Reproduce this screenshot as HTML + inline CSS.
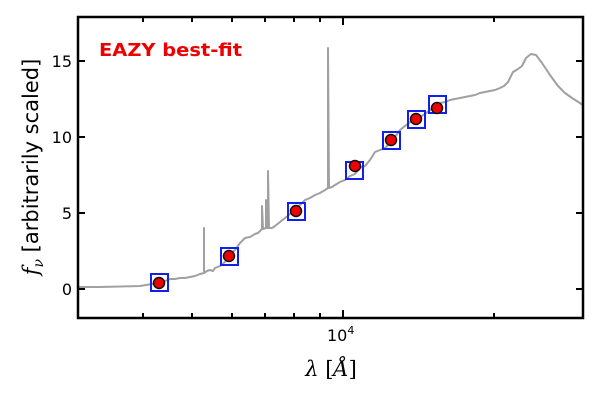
<!DOCTYPE html>
<html><head><meta charset="utf-8"><style>body{margin:0;background:#fff}</style></head><body>
<svg width="600" height="400" xmlns="http://www.w3.org/2000/svg" font-family="DejaVu Sans, Liberation Sans, sans-serif">
<rect width="600" height="400" fill="#fff"/>
<polyline fill="none" stroke="#a0a0a0" stroke-width="2" stroke-linejoin="round" points="78,287 100,287 120,286.5 140,286 152,284 159,282 165,281 170,279 175,279 180,278 185,278 190,277 195,276 200,274 204,273 204,228 204,273 207,271 210,270 213,271 215,268 220,266 225,262 230,255 235,250 240,243 245,238 250,237 255,234 258,233 262,229 262,206 263,229 266,228 266,200 267,228 268,228 268,171 269,228 272,228 275,226 280,222 285,218 290,214 295,208 300,205 305,200 310,198 315,195 320,193 325,190 328,188 328,48 329,188 332,187 335,185 340,182 345,180 350,176 355,174 360,168 365,166 370,160 375,152 380,150 385,148 390,143 395,137 400,130 405,126 410,122 415,121 420,117 425,114 430,110 435,107 440,103 445,102 450,100 455,99 460,98 465,97 470,96 475,95 480,93 485,92 490,91 495,90 500,88 504,86 508,82 513,72 518,69 522,66 526,58 531,54 536,55 542,63 550,75 558,86 565,93 572,98 583,105"/>
<g fill="none" stroke="#1020ee" stroke-width="2">
<rect x="151" y="274" width="17" height="17"/><rect x="221" y="248" width="17" height="17"/>
<rect x="288" y="203" width="17" height="17"/><rect x="346" y="162" width="17" height="17"/>
<rect x="383" y="132" width="17" height="17"/><rect x="408" y="111" width="17" height="17"/>
<rect x="429" y="96" width="17" height="17"/></g>
<g fill="#ee0000" stroke="#111" stroke-width="1.5">
<circle cx="159" cy="283" r="5.5"/><circle cx="229" cy="256" r="5.5"/><circle cx="296" cy="211" r="5.5"/>
<circle cx="355" cy="166" r="5.5"/><circle cx="391" cy="140" r="5.5"/><circle cx="416" cy="119" r="5.5"/><circle cx="437" cy="108" r="5.5"/></g>
<rect x="78" y="17" width="505" height="301" fill="none" stroke="#000" stroke-width="2.5"/>
<g stroke="#000" stroke-width="2">
<path d="M78,289h7M78,213h7M78,137h7M78,61h7M583,289h-7M583,213h-7M583,137h-7M583,61h-7"/>
<path d="M343,318v-8M343,17v8M494,318v-5M494,17v5"/>
<path d="M143,318v-5M192,318v-5M232,318v-5M265,318v-5M294,318v-5M320,318v-5M143,17v5M192,17v5M232,17v5M265,17v5M294,17v5M320,17v5"/>
</g>
<g font-size="16" text-anchor="end" fill="#000">
<text x="72" y="295">0</text><text x="72" y="219">5</text><text x="72" y="143">10</text><text x="72" y="67">15</text></g>
<text x="327" y="341" font-size="16">10<tspan font-size="11" dy="-7">4</tspan></text>
<text x="99" y="56" font-size="18" font-weight="bold" fill="#ee0000" textLength="143" lengthAdjust="spacingAndGlyphs">EAZY best-fit</text>
<text x="331" y="376" font-size="21" text-anchor="middle" font-family="DejaVu Serif, serif" font-style="italic">λ <tspan font-style="normal">[</tspan>Å<tspan font-style="normal">]</tspan></text>
<text transform="translate(38,167) rotate(-90)" font-size="21" text-anchor="middle"><tspan font-style="italic" font-family="DejaVu Serif, serif">f</tspan><tspan font-size="14" dy="5" font-style="italic" font-family="DejaVu Serif, serif">ν</tspan><tspan dy="-5"> [arbitrarily scaled]</tspan></text>
</svg>
</body></html>
